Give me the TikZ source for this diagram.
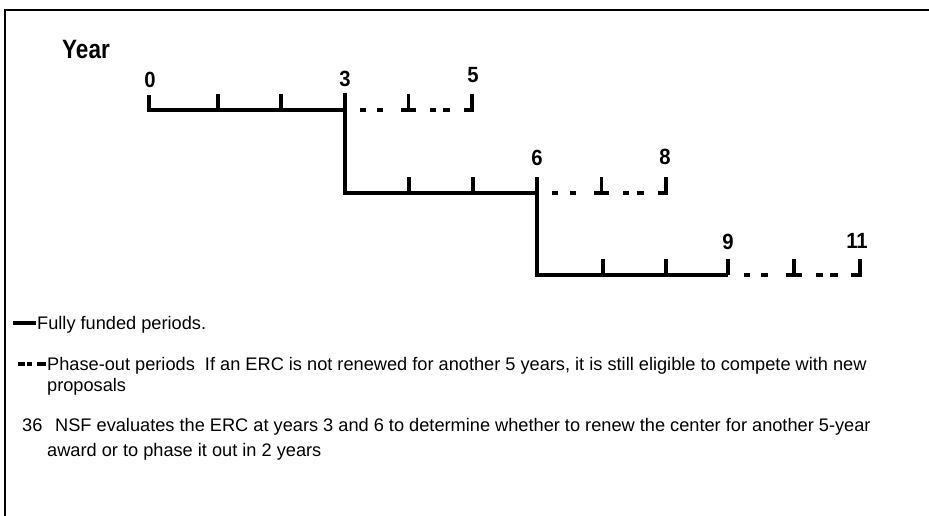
\documentclass[tikz,border=0pt]{standalone}
\usepackage{fontspec}
\setmainfont{Liberation Sans}
\newfontfamily\condbf[FakeStretch=0.85]{Liberation Sans Bold}
\newfontfamily\digbf[FakeStretch=0.92]{Liberation Sans Bold}
\begin{document}
\begin{tikzpicture}[x=1pt,y=-1pt,
  frameline/.style={line width=1.8pt},
  chart/.style={line width=3.4pt, line cap=butt},
  yr/.style={font=\digbf\fontsize{22}{24}\selectfont, inner sep=0pt},
  leg/.style={font=\fontsize{18.2}{22}\selectfont, inner sep=0pt, anchor=base west}]
\path[fill=white] (0,0) rectangle (929,516);
\useasboundingbox (0,0) rectangle (929,516);
% frame
\draw[frameline] (4,10) -- (929,10);
\draw[frameline] (5,9.1) -- (5,516);
% title
\node[font=\condbf\fontsize{26.5}{28}\selectfont, inner sep=0pt, anchor=base west] (year) at (62,59) {Year};
% year labels
\node[yr] (y0) at (150,80) {0};
\node[yr] (y3) at (345,79) {3};
\node[yr] (y5) at (473,75) {5};
\node[yr] (y6) at (537,158) {6};
\node[yr] (y8) at (665,157) {8};
\node[yr] (y9) at (728,242) {9};
\node[yr] (y11) at (857,241) {11};
% fully funded (solid) periods
\draw[chart] (149,95) -- (149,110) -- (345,110);
\draw[chart] (345,93) -- (345,193) -- (537,193);
\draw[chart] (537,177) -- (537,275) -- (728,275);
\foreach \x/\y in {218/110, 281/110, 409/193, 473/193, 603/275, 666/275, 728/275}
  \draw[chart] (\x,\y-16) -- (\x,\y);
% phase-out (dashed) periods
\foreach \s/\e/\y in {345/472/110, 537/666/193, 728/860/275} {
  \pgfmathsetmacro\L{\e-\s}
  \draw[chart] ({\s+0.118*\L},\y) -- ({\s+0.165*\L},\y);
  \draw[chart] ({\s+0.252*\L},\y) -- ({\s+0.300*\L},\y);
  \draw[chart] ({\s+0.440*\L},\y) -- ({\s+0.560*\L},\y);
  \draw[chart] ({\s+0.5*\L},\y-16) -- ({\s+0.5*\L},\y);
  \draw[chart] ({\s+0.669*\L},\y) -- ({\s+0.717*\L},\y);
  \draw[chart] ({\s+0.772*\L},\y) -- ({\s+0.830*\L},\y);
  \draw[chart] ({\s+0.935*\L},\y) -- (\e+1.7,\y);
  \draw[chart] (\e,\y-16) -- (\e,\y);
}
% legend
\draw[chart] (13,323) -- (36,323);
\node[leg] (l1) at (37,329) {Fully funded periods.};
\draw[chart] (18,364) -- (24.5,364);
\draw[chart] (26.5,364) -- (31.5,364);
\draw[chart] (36.5,364) -- (46,364);
\node[leg] (l2) at (47,370) {Phase-out periods\ \ If an ERC is not renewed for another 5 years, it is still eligible to compete with new};
\node[leg] (l2b) at (47,391) {proposals};
\node[leg] (l3n) at (22,431) {36};
\node[leg] (l3) at (55,431) {NSF evaluates the ERC at years 3 and 6 to determine whether to renew the center for another 5-year};
\node[leg] (l3b) at (47,456) {award or to phase it out in 2 years};
\end{tikzpicture}
\end{document}
